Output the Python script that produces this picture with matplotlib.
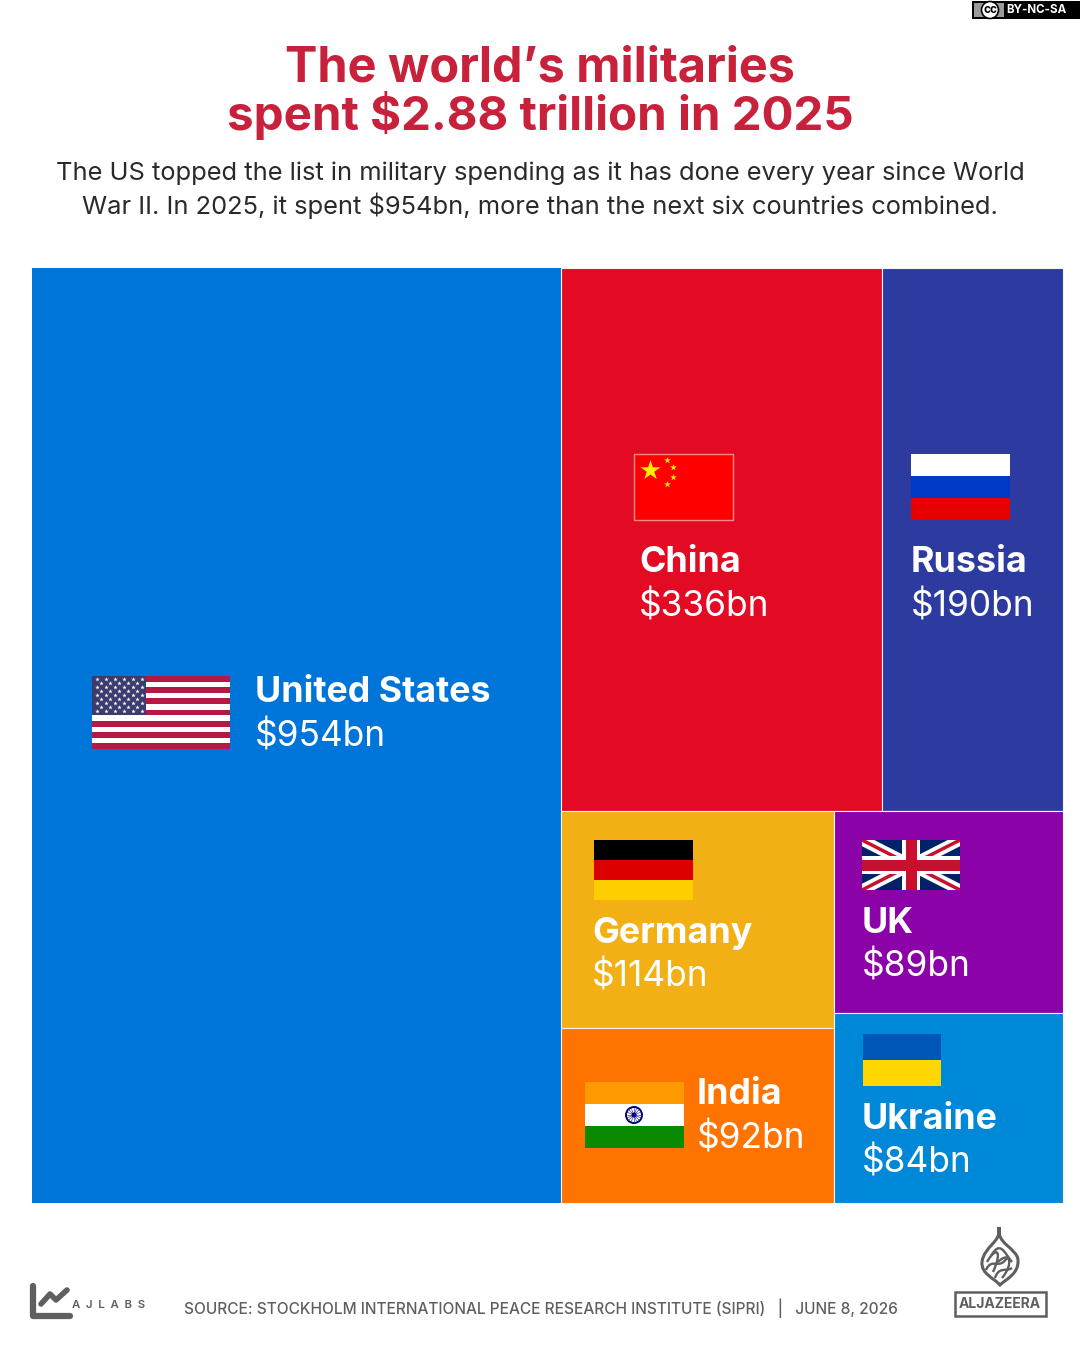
import numpy as np
import matplotlib
matplotlib.use('Agg')
import matplotlib.pyplot as plt
from matplotlib.patches import Rectangle, Circle, PathPatch
from matplotlib.path import Path

# spending in $bn
countries = ['United States', 'China', 'Russia', 'Germany', 'India', 'UK', 'Ukraine']
spending = [954, 336, 190, 114, 92, 89, 84]
colours = ['#0075D9', '#E30B23', '#2D3AA0', '#F2B015', '#FF7300', '#8A02A8', '#0088D8']

title_lines = ['The world\u2019s militaries', 'spent $2.88 trillion in 2025']
sub_lines = ['The US topped the list in military spending as it has done every year since World',
             'War II. In 2025, it spent $954bn, more than the next six countries combined.']
source = 'SOURCE: STOCKHOLM INTERNATIONAL PEACE RESEARCH INSTITUTE (SIPRI)   |   JUNE 8, 2026'

FONT = 'Inter'
plt.rcParams['font.family'] = [FONT, 'DejaVu Sans']

fig = plt.figure(figsize=(10.8, 13.5), dpi=100)
ax = fig.add_axes([0, 0, 1, 1])
ax.set_xlim(0, 1080)
ax.set_ylim(1350, 0)
ax.axis('off')

# treemap: US on the left, then top row / bottom two columns
X0, Y0, W, H = 32, 268, 1031, 935
s = dict(zip(countries, spending))
total = sum(spending)
us_w = W * s['United States'] / total
rx = X0 + us_w
rw = W - us_w
rest = total - s['United States']
top = s['China'] + s['Russia']
top_h = H * top / rest
china_w = rw * s['China'] / top
bot = rest - top
lc = s['Germany'] + s['India']
lc_w = rw * lc / bot
by = Y0 + top_h
bh = H - top_h
ger_h = bh * s['Germany'] / lc
uk_h = bh * s['UK'] / (s['UK'] + s['Ukraine'])
boxes = {
    'United States': (X0, Y0, us_w, H),
    'China': (rx, Y0, china_w, top_h),
    'Russia': (rx + china_w, Y0, rw - china_w, top_h),
    'Germany': (rx, by, lc_w, ger_h),
    'India': (rx, by + ger_h, lc_w, bh - ger_h),
    'UK': (rx + lc_w, by, rw - lc_w, uk_h),
    'Ukraine': (rx + lc_w, by + uk_h, rw - lc_w, bh - uk_h),
}
for name, col in zip(countries, colours):
    x, y, w, h = boxes[name]
    lw = 0 if name == 'United States' else 0.8
    ax.bar(x, h, w, bottom=y, align='edge', color=col, edgecolor='#f4f4f4', linewidth=lw)

# label anchors (left, name baseline)
anchors = {'United States': (255, 702), 'China': (639, 572), 'Russia': (911, 572),
           'Germany': (592, 943), 'India': (697, 1104), 'UK': (862, 933), 'Ukraine': (862, 1129)}
for name, v in zip(countries, spending):
    x, y = anchors[name]
    ax.text(x, y, name, color='white', fontsize=25.8, fontweight='bold', va='baseline', ha='left')
    ax.text(x, y + 44, '$%dbn' % v, color='white', fontsize=25.4, va='baseline', ha='left')


def stripes(x, y, w, h, cols):
    n = len(cols)
    for i, c in enumerate(cols):
        ax.add_patch(Rectangle((x, y + i * h / n), w, h / n, fc=c, ec='none', zorder=3))


# US flag
fx, fy, fw, fh = 92, 676, 138, 73
stripes(fx, fy, fw, fh, ['#B31942' if i % 2 == 0 else 'white' for i in range(13)])
cw, ch = 54, fh * 7 / 13
ax.add_patch(Rectangle((fx, fy), cw, ch, fc='#3C3B6E', ec='none', zorder=4))
for r in range(9):
    n = 6 if r % 2 == 0 else 5
    for c in range(n):
        sx = fx + cw * (c + (0.5 if r % 2 == 0 else 1.0)) / 6
        sy = fy + ch * (r + 0.8) / 10
        ax.scatter(sx, sy, marker='*', s=11, color='white', linewidths=0, zorder=5)

# China
ax.add_patch(Rectangle((634, 454), 99, 66, fc='#FF0000', ec='#FF8A8A', lw=1, zorder=3))
ax.scatter(650, 470, marker='*', s=230, color='#FFEB00', linewidths=0, zorder=4)
for px, py in [(667, 460), (673, 467), (673, 477), (667, 484)]:
    ax.scatter(px, py, marker='*', s=26, color='#FFEB00', linewidths=0, zorder=4)

# Russia, Germany, Ukraine
stripes(911, 454, 99, 66, ['white', '#0039C6', '#E60000'])
stripes(594, 840, 99, 60, ['black', '#DD0000', '#FFCE00'])
stripes(863, 1034, 78, 52, ['#0057B7', '#FFD700'])

# India
stripes(585, 1082, 99, 66, ['#FF9900', 'white', '#0A8A00'])
ax.add_patch(Circle((634, 1115), 8, fc='white', ec='#000080', lw=1.4, zorder=4))
ax.add_patch(Circle((634, 1115), 2.5, fc='#000080', ec='none', zorder=5))
for a in np.linspace(0, np.pi, 8, endpoint=False):
    ax.plot([634 - 7 * np.cos(a), 634 + 7 * np.cos(a)], [1115 - 7 * np.sin(a), 1115 + 7 * np.sin(a)],
            color='#4040A0', lw=0.5, zorder=4)

# UK
ux, uy, uw, uh = 862, 840, 98, 50
clip = Rectangle((ux, uy), uw, uh, transform=ax.transData)
ax.add_patch(Rectangle((ux, uy), uw, uh, fc='#012169', ec='none', zorder=3))
for ys in [(uy, uy + uh), (uy + uh, uy)]:
    l, = ax.plot([ux, ux + uw], ys, color='white', lw=8, solid_capstyle='butt', zorder=4)
    l.set_clip_path(clip)
    l, = ax.plot([ux, ux + uw], ys, color='#C8102E', lw=2.5, solid_capstyle='butt', zorder=4)
    l.set_clip_path(clip)
ax.add_patch(Rectangle((ux + uw / 2 - 9, uy), 18, uh, fc='white', ec='none', zorder=5))
ax.add_patch(Rectangle((ux, uy + uh / 2 - 9), uw, 18, fc='white', ec='none', zorder=5))
ax.add_patch(Rectangle((ux + uw / 2 - 5.5, uy), 11, uh, fc='#C8102E', ec='none', zorder=6))
ax.add_patch(Rectangle((ux, uy + uh / 2 - 5.5), uw, 11, fc='#C8102E', ec='none', zorder=6))

# headline, second line runs wide in this font so it gets a smaller size
for t, y, fs in zip(title_lines, [82, 129.5], [35, 34.2]):
    ax.text(540, y, t, color='#C8213C', fontsize=fs, fontweight='bold', ha='center', va='baseline')
for t, y in zip(sub_lines, [180, 214]):
    ax.text(540, y, t, color='#2A2A2A', fontsize=18.35, ha='center', va='baseline')

# footer
GREY = '#5f5f5f'
ax.plot([33, 33, 70], [1286, 1316, 1316], color=GREY, lw=4.5, solid_capstyle='round',
        solid_joinstyle='round')
ax.plot([41, 50, 56, 67], [1304, 1294, 1300, 1290], color=GREY, lw=4, solid_capstyle='round',
        solid_joinstyle='round')
ax.text(72, 1308, 'A  J  L  A  B  S', color=GREY, fontsize=8.2, fontweight='semibold', va='baseline')
ax.text(184, 1314, source, color=GREY, fontsize=11.1, fontweight='medium', va='baseline')

# Al Jazeera mark, rough calligraphy drop
drop = Path([(999, 1227), (1002, 1242), (984, 1246), (982, 1262), (981, 1274), (994, 1278), (1000, 1285),
             (1006, 1279), (1019, 1274), (1018, 1260), (1017, 1248), (996, 1244), (999, 1227)],
            [Path.MOVETO] + [Path.CURVE4] * 12)
ax.add_patch(PathPatch(drop, fc='none', ec=GREY, lw=2.2))
for pts in ([(987, 1262), (996, 1246), (1003, 1250), (993, 1272)],
            [(998, 1262), (1010, 1250), (1014, 1264), (1002, 1278)],
            [(986, 1270), (992, 1256), (1000, 1272), (1008, 1256)],
            [(991, 1256), (1000, 1240), (1004, 1252), (1012, 1262)],
            [(995, 1278), (999, 1266), (1006, 1272), (1012, 1268)]):
    ax.add_patch(PathPatch(Path(pts, [Path.MOVETO] + [Path.CURVE4] * 3), fc='none', ec=GREY, lw=1.7))
ax.add_patch(Rectangle((954.5, 1292), 91, 24, fc='white', ec=GREY, lw=1.8))
ax.text(1000, 1304.5, 'ALJAZEERA', color=GREY, fontsize=10, fontweight='bold', ha='center', va='center')

# licence badge
ax.add_patch(Rectangle((972, 1), 108, 18, fc='black', ec='none'))
ax.add_patch(Rectangle((974, 3), 30, 14, fc='#9a9a9a', ec='none'))
ax.add_patch(Circle((990, 10), 8.5, fc='white', ec='black', lw=1.2))
ax.text(990, 10, 'cc', color='black', fontsize=8.5, fontweight='bold', ha='center', va='center')
ax.text(1036, 10, 'BY-NC-SA', color='white', fontsize=8.3, fontweight='bold', ha='center', va='center')

fig.savefig('out.png', dpi=100, facecolor='white')
